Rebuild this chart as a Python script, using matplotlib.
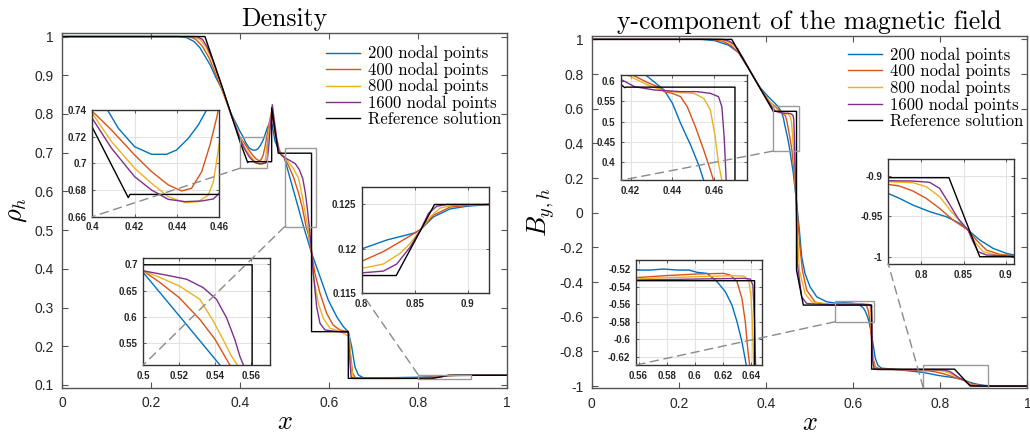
import matplotlib
matplotlib.use("Agg")
import matplotlib.pyplot as plt
from matplotlib.patches import Rectangle, ConnectionPatch
from matplotlib.ticker import FuncFormatter
import numpy as np

plt.rcParams["font.family"] = ["Liberation Sans", "DejaVu Sans"]
plt.rcParams["mathtext.fontset"] = "cm"
plt.rcParams["axes.unicode_minus"] = False

labels = ["200 nodal points", "400 nodal points", "800 nodal points",
          "1600 nodal points", "Reference solution"]
colors = ["#0072BD", "#D95319", "#EDB120", "#7E2F8E", "#000000"]

# density, (x, rho)
rho_200 = [(0.0, 1.0), (0.261, 1.0), (0.28, 0.997), (0.2965, 0.987), (0.3097, 0.9708), (0.3321, 0.9277),
           (0.345, 0.895), (0.36, 0.862), (0.38, 0.80), (0.40, 0.754), (0.4072, 0.74), (0.4123, 0.7263),
           (0.42, 0.7125), (0.428, 0.7068), (0.4351, 0.7068), (0.4398, 0.71), (0.4454, 0.7188), (0.4501, 0.7288),
           (0.454, 0.74), (0.461, 0.764), (0.4686, 0.781), (0.472, 0.772), (0.4783, 0.73), (0.488, 0.705),
           (0.497, 0.692), (0.50, 0.684), (0.52, 0.602), (0.5426, 0.509), (0.5608, 0.4403), (0.5795, 0.38),
           (0.598, 0.3196), (0.617, 0.2765), (0.632, 0.2506), (0.6432, 0.2377), (0.6508, 0.199), (0.658, 0.147),
           (0.6657, 0.126), (0.677, 0.1185), (0.70, 0.1185), (0.75, 0.119), (0.80, 0.12), (0.8236, 0.121),
           (0.85, 0.1218), (0.8557, 0.1222), (0.8676, 0.1236), (0.8833, 0.1245), (0.899, 0.1248), (0.92, 0.125),
           (1.0, 0.125)]
rho_400 = [(0.0, 1.0), (0.285, 1.0), (0.30, 0.993), (0.315, 0.975), (0.33, 0.945), (0.35, 0.89), (0.38, 0.798),
           (0.40, 0.739), (0.4091, 0.725), (0.42, 0.7063), (0.428, 0.6938), (0.4359, 0.6838), (0.4422, 0.6793),
           (0.4469, 0.6813), (0.4517, 0.6938), (0.4556, 0.7138), (0.4587, 0.7338), (0.4595, 0.74), (0.465, 0.775),
           (0.470, 0.803), (0.474, 0.78), (0.48, 0.74), (0.49, 0.70), (0.50, 0.6873), (0.5093, 0.665),
           (0.52, 0.6365), (0.5315, 0.595), (0.54, 0.557), (0.5481, 0.509), (0.554, 0.487), (0.5608, 0.4403),
           (0.568, 0.389), (0.5795, 0.337), (0.5945, 0.285), (0.609, 0.255), (0.624, 0.242), (0.6432, 0.2377),
           (0.647, 0.19), (0.653, 0.13), (0.659, 0.119), (0.67, 0.1175), (0.75, 0.118), (0.80, 0.1186),
           (0.8204, 0.1197), (0.8362, 0.1208), (0.8557, 0.1222), (0.8676, 0.1238), (0.8833, 0.1247),
           (0.899, 0.1249), (0.92, 0.125), (1.0, 0.125)]
rho_800 = [(0.0, 1.0), (0.295, 1.0), (0.31, 0.992), (0.322, 0.975), (0.335, 0.945), (0.355, 0.88), (0.38, 0.796),
           (0.40, 0.7375), (0.4091, 0.7163), (0.42, 0.6963), (0.428, 0.685), (0.4359, 0.675), (0.4438, 0.6705),
           (0.4501, 0.6713), (0.4548, 0.6763), (0.4572, 0.6863), (0.4587, 0.7013), (0.46, 0.715), (0.466, 0.77),
           (0.4716, 0.813), (0.476, 0.78), (0.482, 0.735), (0.49, 0.70), (0.50, 0.6873), (0.5093, 0.6746),
           (0.52, 0.6587), (0.5315, 0.6333), (0.5389, 0.592), (0.5444, 0.557), (0.5491, 0.5253), (0.5522, 0.5094),
           (0.5608, 0.4403), (0.566, 0.371), (0.5757, 0.311), (0.587, 0.272), (0.602, 0.2465), (0.624, 0.239),
           (0.6455, 0.225), (0.6493, 0.156), (0.654, 0.12), (0.66, 0.1175), (0.75, 0.1175), (0.80, 0.1178),
           (0.8204, 0.1183), (0.8362, 0.1195), (0.8456, 0.1206), (0.8557, 0.1222), (0.8645, 0.1236),
           (0.8739, 0.1246), (0.8865, 0.1249), (0.92, 0.125), (1.0, 0.125)]
rho_1600 = [(0.0, 1.0), (0.302, 1.0), (0.315, 0.993), (0.325, 0.975), (0.34, 0.935), (0.36, 0.868), (0.38, 0.797),
            (0.40, 0.7337), (0.4091, 0.7113), (0.42, 0.69), (0.428, 0.68), (0.4359, 0.673), (0.4438, 0.6713),
            (0.4517, 0.6718), (0.4572, 0.6733), (0.46, 0.6775), (0.463, 0.70), (0.468, 0.77), (0.4723, 0.824),
            (0.476, 0.79), (0.482, 0.738), (0.488, 0.70), (0.494, 0.692), (0.50, 0.6873), (0.513, 0.679),
            (0.5241, 0.6714), (0.5333, 0.6555), (0.5407, 0.6333), (0.5463, 0.5983), (0.5509, 0.557),
            (0.5537, 0.5253), (0.5556, 0.5094), (0.5608, 0.4403), (0.5645, 0.389), (0.572, 0.302),
            (0.5795, 0.2594), (0.5908, 0.2421), (0.617, 0.238), (0.6432, 0.236), (0.647, 0.156), (0.6497, 0.12),
            (0.655, 0.117), (0.75, 0.117), (0.80, 0.1173), (0.8204, 0.1175), (0.833, 0.1183), (0.8456, 0.1202),
            (0.8557, 0.1222), (0.8629, 0.124), (0.8708, 0.1248), (0.8802, 0.125), (1.0, 0.125)]
rho_ref = [(0.0, 1.0), (0.3208, 1.0), (0.36, 0.868), (0.40, 0.727), (0.417, 0.6743), (0.4178, 0.6767),
           (0.4708, 0.6767), (0.4708, 0.8158), (0.4857, 0.6987), (0.5605, 0.6987), (0.5605, 0.2377),
           (0.6432, 0.2377), (0.6432, 0.117), (0.8325, 0.117), (0.8686, 0.125), (1.0, 0.125)]

# y-component of the magnetic field, (x, By)
by_200 = [(0.0, 1.0), (0.2525, 1.0), (0.283, 0.992), (0.3137, 0.967), (0.3366, 0.925), (0.36, 0.832),
          (0.385, 0.727), (0.4054, 0.669), (0.4274, 0.614), (0.4361, 0.5778), (0.4401, 0.5449), (0.444, 0.4955),
          (0.4488, 0.442), (0.4527, 0.3926), (0.4551, 0.3547), (0.4628, 0.227), (0.4705, 0.0535),
          (0.4766, -0.0994), (0.482, -0.2542), (0.4896, -0.3504), (0.5011, -0.4274), (0.5164, -0.4851),
          (0.5394, -0.514), (0.5582, -0.5208), (0.5684, -0.5208), (0.5779, -0.5196), (0.5874, -0.5208),
          (0.5957, -0.5208), (0.6016, -0.5234), (0.6087, -0.5246), (0.6158, -0.534), (0.6217, -0.5456),
          (0.6264, -0.5608), (0.63, -0.5799), (0.6335, -0.6028), (0.6366, -0.6295), (0.641, -0.68),
          (0.646, -0.76), (0.651, -0.84), (0.657, -0.88), (0.665, -0.897), (0.68, -0.9), (0.72, -0.91),
          (0.7605, -0.9218), (0.7743, -0.928), (0.7901, -0.9362), (0.8099, -0.9444), (0.8296, -0.9506),
          (0.8455, -0.9588), (0.8553, -0.9671), (0.8692, -0.9794), (0.885, -0.9897), (0.9008, -0.9959),
          (0.9099, -0.9979), (0.95, -1.0), (1.0, -1.0)]
by_400 = [(0.0, 1.0), (0.275, 1.0), (0.30, 0.99), (0.32, 0.965), (0.34, 0.915), (0.36, 0.833), (0.39, 0.705),
          (0.41, 0.635), (0.4219, 0.6123), (0.4282, 0.5959), (0.433, 0.586), (0.4361, 0.5737), (0.4401, 0.5695),
          (0.444, 0.5613), (0.4472, 0.5366), (0.4511, 0.4872), (0.4551, 0.4296), (0.4583, 0.3802),
          (0.4598, 0.3547), (0.464, 0.25), (0.469, 0.1), (0.4735, -0.05), (0.4781, -0.2), (0.4835, -0.33),
          (0.4935, -0.447), (0.5126, -0.515), (0.53, -0.528), (0.5582, -0.5295), (0.5779, -0.5273),
          (0.6016, -0.5253), (0.6205, -0.5246), (0.6252, -0.5265), (0.63, -0.534), (0.6335, -0.5532),
          (0.6359, -0.5799), (0.6376, -0.6105), (0.639, -0.6295), (0.642, -0.72), (0.646, -0.84), (0.651, -0.89),
          (0.66, -0.9), (0.72, -0.907), (0.7605, -0.9107), (0.7743, -0.9128), (0.7901, -0.9189), (0.8059, -0.928),
          (0.8217, -0.9403), (0.8375, -0.9547), (0.8553, -0.9671), (0.8652, -0.9794), (0.8771, -0.9918),
          (0.8929, -0.9971), (0.9099, -0.9988), (0.95, -1.0), (1.0, -1.0)]
by_800 = [(0.0, 1.0), (0.29, 1.0), (0.31, 0.99), (0.325, 0.97), (0.345, 0.905), (0.37, 0.79), (0.40, 0.665),
          (0.4187, 0.614), (0.4282, 0.5901), (0.4361, 0.5761), (0.444, 0.5712), (0.4504, 0.5695),
          (0.4551, 0.5572), (0.4583, 0.5284), (0.4606, 0.4625), (0.4622, 0.3967), (0.4638, 0.3547),
          (0.4665, 0.2), (0.4695, 0.05), (0.473, -0.15), (0.4766, -0.331), (0.4896, -0.466), (0.5049, -0.514),
          (0.5582, -0.5311), (0.5779, -0.5295), (0.6016, -0.5284), (0.6252, -0.5273), (0.6347, -0.5276),
          (0.6383, -0.5322), (0.6399, -0.5494), (0.6409, -0.5799), (0.6418, -0.6295), (0.644, -0.8),
          (0.648, -0.89), (0.655, -0.903), (0.7605, -0.9074), (0.7901, -0.9086), (0.8059, -0.9136),
          (0.8217, -0.9259), (0.8356, -0.9444), (0.8553, -0.9671), (0.8632, -0.9815), (0.8731, -0.9938),
          (0.8889, -0.9979), (0.9099, -0.9992), (1.0, -1.0)]
by_1600 = [(0.0, 1.0), (0.30, 1.0), (0.315, 0.99), (0.325, 0.975), (0.335, 0.945), (0.35, 0.878), (0.38, 0.748),
           (0.40, 0.663), (0.4153, 0.6041), (0.4219, 0.586), (0.4314, 0.5778), (0.444, 0.5737), (0.4519, 0.5737),
           (0.4583, 0.5695), (0.4622, 0.5613), (0.4638, 0.5366), (0.4649, 0.4625), (0.4659, 0.3547),
           (0.4675, 0.2), (0.4695, 0.05), (0.472, -0.293), (0.482, -0.485), (0.4935, -0.524), (0.5582, -0.5322),
           (0.6016, -0.5311), (0.6347, -0.5303), (0.6395, -0.5311), (0.6413, -0.538), (0.6425, -0.5799),
           (0.6432, -0.6295), (0.6445, -0.85), (0.648, -0.9), (0.655, -0.905), (0.7605, -0.9062),
           (0.7901, -0.9066), (0.8099, -0.9082), (0.8217, -0.9156), (0.8316, -0.9321), (0.8435, -0.9527),
           (0.8553, -0.9671), (0.8613, -0.9815), (0.8672, -0.9938), (0.8771, -0.9979), (0.9099, -0.9992),
           (1.0, -1.0)]
by_ref = [(0.0, 1.0), (0.3214, 1.0), (0.4172, 0.5835), (0.4178, 0.5848), (0.4701, 0.5848), (0.4701, -0.331),
          (0.4858, -0.533), (0.6425, -0.533), (0.6425, -0.9025), (0.8328, -0.9025), (0.8692, -1.0), (1.0, -1.0)]

rho_curves = [rho_200, rho_400, rho_800, rho_1600, rho_ref]
by_curves = [by_200, by_400, by_800, by_1600, by_ref]


def tick_fmt(v, pos):
    return "%g" % round(v, 4)


def draw_curves(ax, curves):
    lines = []
    for c, col in zip(curves, colors):
        xy = np.array(c)
        ln, = ax.plot(xy[:, 0], xy[:, 1], color=col, lw=1.0)
        lines.append(ln)
    return lines


def style_main(ax, ylim, yticks):
    ax.set_xlim(0, 1)
    ax.set_ylim(*ylim)
    ax.set_xticks([0, 0.2, 0.4, 0.6, 0.8, 1])
    ax.set_yticks(yticks)
    ax.xaxis.set_major_formatter(FuncFormatter(tick_fmt))
    ax.yaxis.set_major_formatter(FuncFormatter(tick_fmt))
    ax.tick_params(direction="in", top=True, right=True, length=4, width=0.8,
                   color="#555555", labelcolor="#262626", labelsize=10, pad=6)
    for s in ax.spines.values():
        s.set_color("#555555")
        s.set_linewidth(1.0)


def add_inset(fig, ax, rect, xlim, ylim, xticks, yticks, curves):
    axi = fig.add_axes(rect)
    draw_curves(axi, curves)
    axi.set_xlim(*xlim)
    axi.set_ylim(*ylim)
    axi.set_xticks(xticks)
    axi.set_yticks(yticks)
    axi.xaxis.set_major_formatter(FuncFormatter(tick_fmt))
    axi.yaxis.set_major_formatter(FuncFormatter(tick_fmt))
    axi.grid(True, color="#e3e3e3", lw=0.8)
    axi.tick_params(direction="in", top=True, right=True, length=2.5, width=0.6,
                    color="#444444", labelcolor="#262626", labelsize=7, pad=4)
    for lab in axi.get_xticklabels() + axi.get_yticklabels():
        lab.set_fontweight("bold")
    for s in axi.spines.values():
        s.set_color("#333333")
        s.set_linewidth(1.0)
    # zoom box on the main axes
    ax.add_patch(Rectangle((xlim[0], ylim[0]), xlim[1] - xlim[0], ylim[1] - ylim[0],
                           fill=False, ec="#9a9a9a", lw=1.0, zorder=5))
    return axi


def connect(fig, ax, axi, corner):
    con = ConnectionPatch(xyA=corner, coordsA=ax.transData, xyB=(0, 0), coordsB=axi.transAxes,
                          color="#8a8a8a", lw=1.0, ls=(0, (6, 4)))
    fig.add_artist(con)


fig = plt.figure(figsize=(10.30, 4.34), dpi=100)

# ---- Density ----
ax1 = fig.add_axes([0.0605, 0.1067, 0.4317, 0.8180])
lines = draw_curves(ax1, rho_curves)
style_main(ax1, (0.093, 1.01), [0.1, 0.2, 0.3, 0.4, 0.5, 0.6, 0.7, 0.8, 0.9, 1])
ax1.set_title("Density", fontfamily=["cmr10", "DejaVu Serif"], fontsize=18.5, pad=5)
ax1.set_xlabel(r"$x$", fontsize=19, labelpad=0)
ax1.set_ylabel(r"$\rho_h$", fontsize=19, labelpad=4)
ax1.legend(lines, labels, loc="upper left", bbox_to_anchor=(0.3165, 0.895), bbox_transform=fig.transFigure,
           frameon=False, prop={"family": "cmr10", "size": 12}, handlelength=2.05, handletextpad=0.5,
           labelspacing=0.04, borderpad=0, borderaxespad=0)

i1 = add_inset(fig, ax1, [0.0896, 0.5007, 0.1233, 0.2458], (0.4, 0.46), (0.66, 0.74),
               [0.4, 0.42, 0.44, 0.46], [0.66, 0.68, 0.7, 0.72, 0.74], rho_curves)
connect(fig, ax1, i1, (0.4, 0.66))
i2 = add_inset(fig, ax1, [0.1391, 0.1590, 0.1230, 0.2458], (0.5, 0.5704), (0.509, 0.711),
               [0.5, 0.52, 0.54, 0.56], [0.55, 0.6, 0.65, 0.7], rho_curves)
connect(fig, ax1, i2, (0.5, 0.509))
i3 = add_inset(fig, ax1, [0.3512, 0.3242, 0.1236, 0.2456], (0.8, 0.92), (0.115, 0.127),
               [0.8, 0.85, 0.9], [0.115, 0.12, 0.125], rho_curves)
connect(fig, ax1, i3, (0.8, 0.127))

# ---- By ----
ax2 = fig.add_axes([0.5745, 0.1053, 0.4229, 0.8124])
lines = draw_curves(ax2, by_curves)
style_main(ax2, (-1.013, 1.021), [-1, -0.8, -0.6, -0.4, -0.2, 0, 0.2, 0.4, 0.6, 0.8, 1])
ax2.set_title("y-component of the magnetic field", fontfamily=["cmr10", "DejaVu Serif"], fontsize=18.5, pad=5)
ax2.set_xlabel(r"$x$", fontsize=19, labelpad=0)
ax2.set_ylabel(r"$B_{y,h}$", fontsize=19, labelpad=2)
ax2.legend(lines, labels, loc="upper left", bbox_to_anchor=(0.8233, 0.892), bbox_transform=fig.transFigure,
           frameon=False, prop={"family": "cmr10", "size": 12}, handlelength=2.05, handletextpad=0.5,
           labelspacing=0.05, borderpad=0, borderaxespad=0)

j1 = add_inset(fig, ax2, [0.6029, 0.5846, 0.1226, 0.2419], (0.4154, 0.476), (0.355, 0.614),
               [0.42, 0.44, 0.46], [0.4, 0.45, 0.5, 0.55, 0.6], by_curves)
connect(fig, ax2, j1, (0.4154, 0.355))
j2 = add_inset(fig, ax2, [0.6175, 0.1590, 0.1226, 0.2419], (0.5582, 0.648), (-0.6295, -0.5093),
               [0.56, 0.58, 0.6, 0.62, 0.64], [-0.62, -0.6, -0.58, -0.56, -0.54, -0.52], by_curves)
connect(fig, ax2, j2, (0.5582, -0.6295))
j3 = add_inset(fig, ax2, [0.8624, 0.3917, 0.1223, 0.2412], (0.761, 0.910), (-1.009, -0.8798),
               [0.8, 0.85, 0.9], [-1, -0.95, -0.9], by_curves)
connect(fig, ax2, j3, (0.761, -1.009))

fig.savefig("out.png", dpi=100)
